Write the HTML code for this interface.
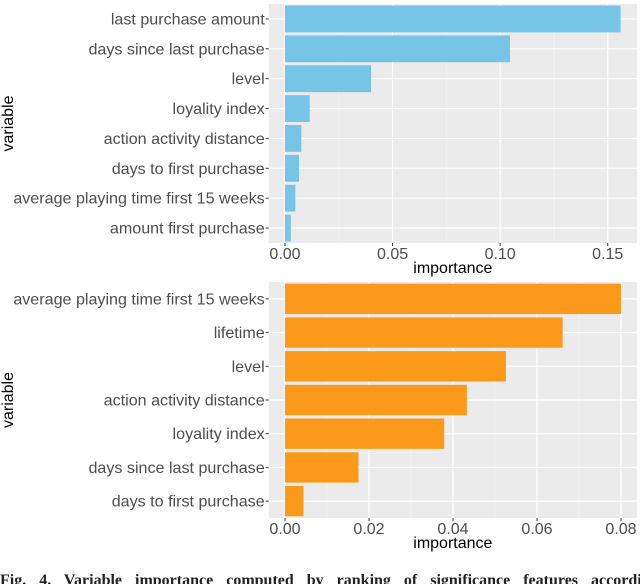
<!DOCTYPE html>
<html><head><meta charset="utf-8"><style>
html,body{margin:0;padding:0;background:#fff;width:640px;height:584px;overflow:hidden}
svg{display:block}
text{font-family:"Liberation Sans",sans-serif}
</style></head><body>
<svg id="c" width="640" height="584"></svg>
<script>
const topCats=["last purchase amount","days since last purchase","level","loyality index","action activity distance","days to first purchase","average playing time first 15 weeks","amount first purchase"];
const topVals=[0.156,0.1046,0.040,0.0115,0.0076,0.0065,0.0048,0.0027];
const topTicks=[0,0.05,0.10,0.15];
const topTickLabels=["0.00","0.05","0.10","0.15"];
const botCats=["average playing time first 15 weeks","lifetime","level","action activity distance","loyality index","days since last purchase","days to first purchase"];
const botVals=[0.080,0.0661,0.0526,0.0433,0.0379,0.0175,0.0044];
const botTicks=[0,0.02,0.04,0.06,0.08];
const botTickLabels=["0.00","0.02","0.04","0.06","0.08"];
const NS="http://www.w3.org/2000/svg";
const svg=document.getElementById('c');
function mk(tag,attrs,parent){const e=document.createElementNS(NS,tag);for(const k in attrs)e.setAttribute(k,attrs[k]);(parent||svg).appendChild(e);return e;}
function panel(cfg){
  const g=mk('g',{});
  
  
  const L=268.7,R=637,T=cfg.top,B=cfg.bottom;
  const x=v=>285+v*cfg.scale;
  const n=cfg.cats.length, step=(B-T)/n;
  const y=i=>T+step*(i+0.5);
  const bg=mk('rect',{x:L,y:T,width:R-L,height:B-T,fill:'#ebebeb'},g);
  
  
  for(let i=0;i<cfg.ticks.length;i++){
    const m=cfg.ticks[i]+(cfg.ticks[1]-cfg.ticks[0])/2;
    if(x(m)<R) mk('line',{x1:x(m),x2:x(m),y1:T,y2:B,stroke:'#f5f5f5','stroke-width':0.6},g);
  }
  cfg.ticks.forEach(t=>mk('line',{x1:x(t),x2:x(t),y1:T,y2:B,stroke:'#fff','stroke-width':1.2},g));
  cfg.cats.forEach((c,i)=>mk('line',{x1:L,x2:R,y1:y(i),y2:y(i),stroke:'#fff','stroke-width':1.2},g));
  cfg.cats.forEach((c,i)=>{
    const bh=step*0.9;
    const r=mk('rect',{x:x(0),y:y(i)-bh/2,width:x(cfg.vals[i])-x(0),height:bh,fill:cfg.color},g);
    
    
    mk('line',{x1:L-3,x2:L,y1:y(i),y2:y(i),stroke:'#333','stroke-width':1},g);
    const t=mk('text',{x:L-4,y:y(i)+5.5,'text-anchor':'end','font-size':'16.1',fill:'#4d4d4d'},g);
    t.textContent=c;
    
    
  });
  cfg.ticks.forEach((tv,i)=>{
    mk('line',{x1:x(tv),x2:x(tv),y1:B,y2:B+3,stroke:'#333','stroke-width':1},g);
    const t=mk('text',{x:x(tv),y:B+16,'text-anchor':'middle','font-size':'16',fill:'#4d4d4d'},g);
    t.textContent=cfg.tickLabels[i];
    
    
  });
  const xt=mk('text',{x:(L+R)/2,y:B+30,'text-anchor':'middle','font-size':'16',fill:'#000'},g);
  xt.textContent='importance';
  
  
  const cy=(T+B)/2;
  const yt=mk('text',{x:13,y:cy,'text-anchor':'middle','font-size':'16',fill:'#000',transform:'rotate(-90 13 '+cy+')'},g);
  yt.textContent='variable';
  
  
}
panel({name:'top-chart',cats:topCats,vals:topVals,ticks:topTicks,tickLabels:topTickLabels,scale:322.7/0.15,top:4,bottom:243,color:'#77c5e6'});
panel({name:'bottom-chart',cats:botCats,vals:botVals,ticks:botTicks,tickLabels:botTickLabels,scale:336/0.08,top:282,bottom:518,color:'#fb9a1a'});
const cap=mk('text',{x:0,y:585,'font-size':'16','font-weight':'bold',fill:'#222',style:'font-family:"Liberation Serif",serif;word-spacing:9px'});
cap.textContent='Fig. 4. Variable importance computed by ranking of significance features according to';


</script>
</body></html>
